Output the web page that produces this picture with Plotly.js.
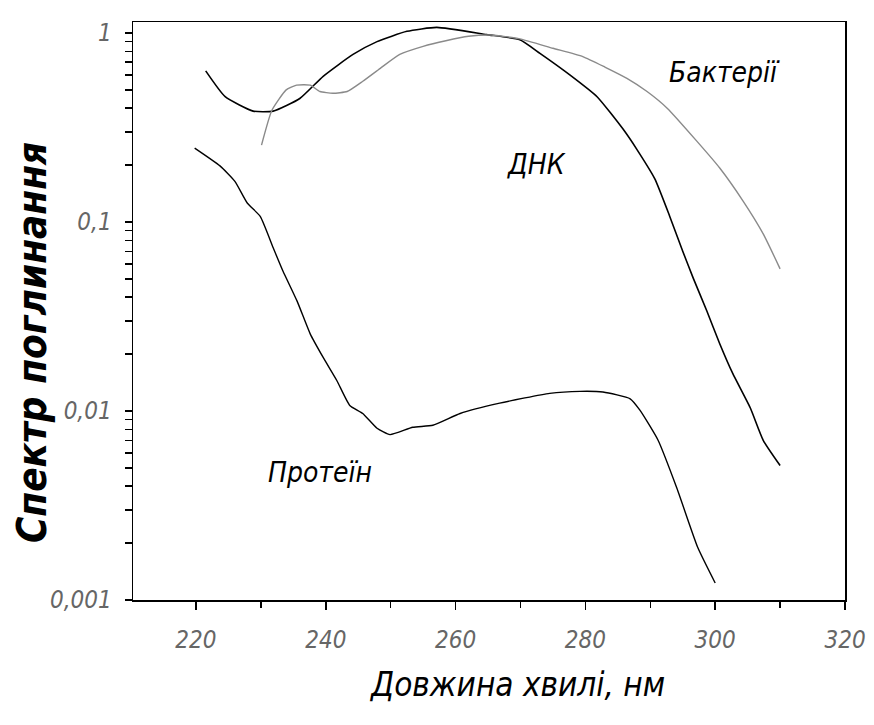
<!DOCTYPE html>
<html>
<head>
<meta charset="utf-8">
<script src="https://cdn.plot.ly/plotly-3.0.1.min.js"></script>
<style>html,body{margin:0;padding:0;background:#fff;}#chart{width:874px;height:725px;}</style>
</head>
<body>
<div id="chart"></div>
<script>
// ДНК (DNA)
var dnaX = [221.5, 224.5, 228.8, 231.9, 236.0, 239.6, 244.2, 247.9, 252.5, 257.1, 264.8, 269.9, 273.0, 277.6, 281.8, 285.8, 288.0, 290.7, 293.0, 295.0, 296.6, 298.7, 300.7, 302.7, 305.4, 307.4, 310.0];
var dnaY = [0.63, 0.46, 0.386, 0.386, 0.45, 0.59, 0.77, 0.90, 1.02, 1.07, 0.98, 0.92, 0.78, 0.60, 0.46, 0.31, 0.24, 0.169, 0.107, 0.070, 0.0506, 0.0339, 0.0227, 0.0158, 0.0104, 0.0070, 0.00515];
// Бактерії (bacteria)
var bacX = [230.1, 231.7, 233.9, 235.5, 237.6, 239.1, 241.1, 243.3, 245.7, 248.4, 251.4, 255.0, 258.5, 262.0, 265.5, 269.9, 275.0, 279.6, 283.0, 286.4, 289.5, 292.6, 297.2, 300.7, 304.3, 307.4, 310.0];
var bacY = [0.255, 0.39, 0.50, 0.53, 0.53, 0.49, 0.48, 0.49, 0.555, 0.65, 0.77, 0.85, 0.91, 0.96, 0.975, 0.93, 0.83, 0.75, 0.66, 0.575, 0.49, 0.40, 0.267, 0.193, 0.129, 0.0865, 0.0565];
// Протеїн (protein)
var proX = [219.8, 223.7, 226.0, 227.9, 229.9, 231.9, 233.4, 235.6, 237.6, 239.6, 241.7, 243.7, 245.7, 247.9, 249.9, 253.4, 256.5, 260.7, 266.8, 274.5, 279.2, 282.7, 286.9, 288.4, 291.2, 294.1, 297.3, 300.0];
var proY = [0.246, 0.198, 0.164, 0.126, 0.107, 0.073, 0.055, 0.038, 0.0256, 0.0192, 0.0145, 0.0107, 0.0097, 0.0081, 0.0075, 0.0082, 0.0084, 0.0097, 0.011, 0.0124, 0.0127, 0.0126, 0.0116, 0.0101, 0.0070, 0.0039, 0.0019, 0.00123];

var xTickVals = [220, 240, 260, 280, 300, 320];
var xTickText = ['220', '240', '260', '280', '300', '320'];
// y ticks: decades labelled, intermediate (2..9) ticks unlabelled
var yTickVals = [0.001, 0.002, 0.003, 0.004, 0.005, 0.006, 0.007, 0.008, 0.009,
                 0.01, 0.02, 0.03, 0.04, 0.05, 0.06, 0.07, 0.08, 0.09,
                 0.1, 0.2, 0.3, 0.4, 0.5, 0.6, 0.7, 0.8, 0.9, 1];
var yTickText = ['0,001', '', '', '', '', '', '', '', '',
                 '0,01', '', '', '', '', '', '', '', '',
                 '0,1', '', '', '', '', '', '', '', '', '1'];

var seriesNames = ['ДНК', 'Бактерії', 'Протеїн'];
var xTitle = 'Довжина хвилі, нм';
var yTitle = 'Спектр поглинання';

var FONT = '"DejaVu Sans Condensed", "Liberation Sans Narrow", sans-serif';

var traces = [
  {x: dnaX, y: dnaY, name: seriesNames[0], mode: 'lines', line: {color: '#000000', width: 1.6, shape: 'spline', smoothing: 0.5}},
  {x: bacX, y: bacY, name: seriesNames[1], mode: 'lines', line: {color: '#8a8a8a', width: 1.4, shape: 'spline', smoothing: 0.5}},
  {x: proX, y: proY, name: seriesNames[2], mode: 'lines', line: {color: '#000000', width: 1.4, shape: 'spline', smoothing: 0.5}}
];

var tickFont = {family: FONT, size: 24, color: '#666666', style: 'italic'};
var labelFont = {family: FONT, size: 28, color: '#000000', style: 'italic'};

var layout = {
  width: 874, height: 725,
  margin: {l: 133, r: 29, t: 22, b: 125},
  paper_bgcolor: '#ffffff', plot_bgcolor: '#ffffff',
  showlegend: false,
  xaxis: {
    range: [210.3, 320], showgrid: false, zeroline: false,
    showline: true, mirror: true, linecolor: '#000000', linewidth: 1.5,
    tickmode: 'array', tickvals: xTickVals, ticktext: xTickText,
    ticks: 'outside', ticklen: 8, tickwidth: 1.5, tickcolor: '#000000',
    ticklabelstandoff: 10,
    tickfont: tickFont,
    minor: {dtick: 10, tick0: 210, ticks: 'outside', ticklen: 6, tickwidth: 1.5, tickcolor: '#000000', showgrid: false}
  },
  yaxis: {
    type: 'log', range: [-3, 0.058], showgrid: false, zeroline: false,
    showline: true, mirror: true, linecolor: '#000000', linewidth: 1.5,
    tickmode: 'array', tickvals: yTickVals, ticktext: yTickText,
    ticks: 'outside', ticklen: 7, tickwidth: 1.5, tickcolor: '#000000',
    ticklabelstandoff: 8,
    tickfont: tickFont
  },
  annotations: [
    {xref: 'paper', yref: 'paper', x: 0.831, y: 0.912, xanchor: 'center', yanchor: 'middle', text: seriesNames[1], showarrow: false, font: labelFont},
    {xref: 'paper', yref: 'paper', x: 0.567, y: 0.753, xanchor: 'center', yanchor: 'middle', text: seriesNames[0], showarrow: false, font: labelFont},
    {xref: 'paper', yref: 'paper', x: 0.263, y: 0.221, xanchor: 'center', yanchor: 'middle', text: seriesNames[2], showarrow: false, font: labelFont},
    {xref: 'paper', yref: 'paper', x: 0.539, y: -0.147, xanchor: 'center', yanchor: 'middle', text: xTitle, showarrow: false,
     font: {family: FONT, size: 33, color: '#000000', style: 'italic'}},
    {xref: 'paper', yref: 'paper', x: -0.142, y: 0.446, xanchor: 'center', yanchor: 'middle', text: yTitle, showarrow: false, textangle: -90,
     font: {family: FONT, size: 40, color: '#000000', style: 'italic', weight: 'bold'}}
  ]
};

Plotly.newPlot('chart', traces, layout, {displayModeBar: false, staticPlot: true});
</script>
</body>
</html>
